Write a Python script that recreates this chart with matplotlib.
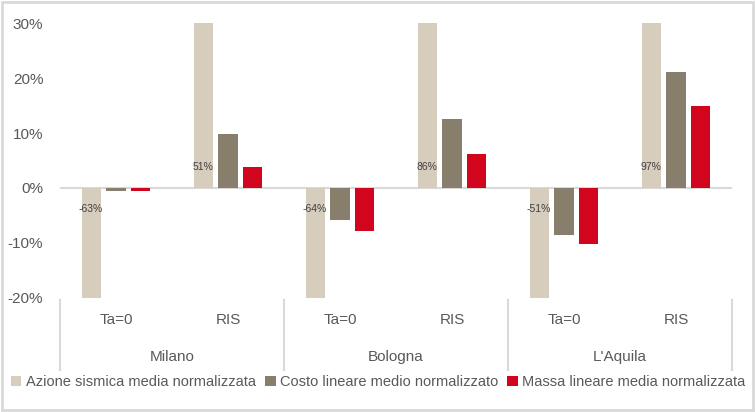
import numpy as np
import matplotlib
matplotlib.use('Agg')
import matplotlib.pyplot as plt
from matplotlib.patches import Rectangle
from matplotlib.lines import Line2D
from matplotlib.ticker import FuncFormatter

plt.rcParams['font.family'] = ['Liberation Sans Narrow', 'Liberation Sans', 'DejaVu Sans']

# dati
cities = ['Milano', 'Bologna', "L'Aquila"]
cases = ['Ta=0', 'RIS', 'Ta=0', 'RIS', 'Ta=0', 'RIS']
azione = [-63, 51, -64, 86, -51, 97]
costo = [-0.6, 9.8, -5.9, 12.6, -8.6, 21.2]
massa = [-0.6, 3.9, -7.8, 6.1, -10.2, 15.0]
series_names = ['Azione sismica media normalizzata',
                'Costo lineare medio normalizzato',
                'Massa lineare media normalizzata']
colors = ['#d7cdbc', '#877e6c', '#d2051e']

W, H = 756, 412
fig = plt.figure(figsize=(W / 100, H / 100), dpi=100)
ax = fig.add_axes([60 / W, (H - 297.7) / H, 672 / W, (297.7 - 23.3) / H])

x = np.arange(len(cases))
w = 0.17
step = 0.223
for i, (vals, c, name) in enumerate(zip([azione, costo, massa], colors, series_names)):
    ax.bar(x + (i - 1) * step, vals, width=w, color=c, label=name, zorder=2)

# etichette dati sulla prima serie
for xi, v in zip(x, azione):
    off = 15 if v > 0 else -15
    ax.annotate(f'{v}%', (xi - step, 0), xytext=(0, off), textcoords='offset points',
                ha='center', va='center', fontsize=7.5, color='#404040', zorder=3)

ax.set_xlim(-0.5, len(cases) - 0.5)
ax.set_ylim(-20, 30)
ax.set_yticks(range(-20, 31, 10))
ax.yaxis.set_major_formatter(FuncFormatter(lambda v, p: f'{int(v)}%'))
ax.tick_params(axis='y', length=0, pad=12, labelsize=11, labelcolor='#595959')
ax.set_xticks([])
for s in ax.spines.values():
    s.set_visible(False)
ax.axhline(0, color='#d9d9d9', lw=1.5, zorder=1)

# assi categorie a due livelli
trans = ax.get_xaxis_transform()
for xi, lab in zip(x, cases):
    ax.text(xi, -0.08, lab, transform=trans, ha='center', va='center',
            fontsize=11, color='#595959')
for k, city in enumerate(cities):
    ax.text(2 * k + 0.5, -0.215, city, transform=trans, ha='center', va='center',
            fontsize=11, color='#595959')
for b in [-0.5, 1.5, 3.5, 5.5]:
    ax.add_line(Line2D([b, b], [-0.01, -0.265], transform=trans, color='#d9d9d9',
                       lw=1.5, clip_on=False))

fig.legend(loc='center', bbox_to_anchor=(0.5, (H - 382) / H), ncol=3, frameon=False,
           fontsize=10.5, handlelength=0.75, handleheight=0.75, handletextpad=0.3,
           columnspacing=0.6, labelcolor='#595959')

fig.patches.append(Rectangle((0.002, 0.004), 0.994, 0.992, transform=fig.transFigure,
                             fill=False, edgecolor='#d9d9d9', lw=2))

fig.savefig('out.png', dpi=100)
